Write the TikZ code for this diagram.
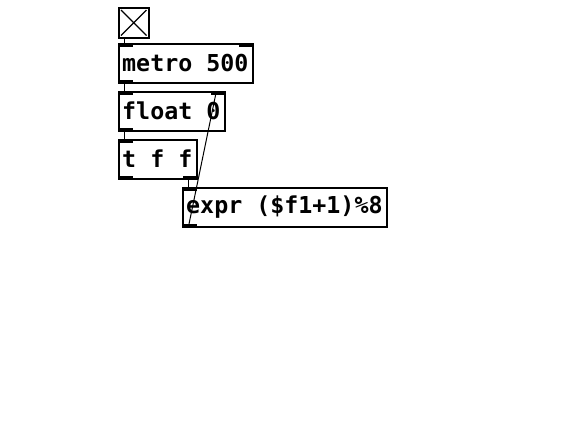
\documentclass[tikz,border=0pt]{standalone}
\usepackage{fontspec}
\setmonofont{DejaVu Sans Mono}
\usetikzlibrary{calc}
\tikzset{
  pdbox/.style={draw=black, line width=1.5pt, fill=white, inner sep=0pt, anchor=north west},
  pdtext/.style={anchor=west, inner sep=0pt, font=\ttfamily\bfseries\fontsize{23.3}{24}\selectfont},
  cord/.style={draw=black, line width=1pt},
}
\begin{document}
\begin{tikzpicture}[x=1pt,y=-1pt]
\useasboundingbox (0,0) rectangle (582,434);
% connections (drawn first)
\coordinate (bo) at (124,37);
\coordinate (mi) at (124,43);
\coordinate (mo) at (124,82);
\coordinate (fi) at (124,91);
\coordinate (fo) at (124,130);
\coordinate (ti) at (124,139);
\coordinate (tro) at (188,178);
\coordinate (ei) at (188,187);
\coordinate (eo) at (189,224);
\coordinate (fri) at (216,93);
\draw[cord] (bo) -- (mi);
\draw[cord] (mo) -- (fi);
\draw[cord] (fo) -- (ti);
\draw[cord] (tro) -- (ei);
% bang
\node[pdbox, minimum width=30pt, minimum height=30pt] (bang) at (118,7) {};
\draw[line width=1.2pt] ($(bang.north west)+(3,3)$) -- ($(bang.south east)+(-3,-3)$);
\draw[line width=1.2pt] ($(bang.north east)+(-3,3)$) -- ($(bang.south west)+(3,-3)$);
% metro
\node[pdbox, minimum width=134pt, minimum height=39pt] (metro) at (118,43) {};
\node[pdtext] (metrot) at (122,63) {metro 500};
\fill ($(metro.north west)$) rectangle +(15,3.5);
\fill ($(metro.north east)+(-15,0)$) rectangle +(15,3.5);
\fill ($(metro.south west)$) rectangle +(15,-3.5);
% float
\node[pdbox, minimum width=106pt, minimum height=39pt] (float) at (118,91) {};
\node[pdtext] (floatt) at (122,111) {float 0};
\fill ($(float.north west)$) rectangle +(15,3.5);
\fill ($(float.north east)+(-15,0)$) rectangle +(15,3.5);
\fill ($(float.south west)$) rectangle +(15,-3.5);
% trigger
\node[pdbox, minimum width=78pt, minimum height=39pt] (trig) at (118,139) {};
\node[pdtext] (trigt) at (122,159) {t f f};
\fill ($(trig.north west)$) rectangle +(15,3.5);
\fill ($(trig.south west)$) rectangle +(15,-3.5);
\fill ($(trig.south east)+(-15,0)$) rectangle +(15,-3.5);
% expr
\node[pdbox, minimum width=204pt, minimum height=39pt] (expr) at (182,187) {};
\node[pdtext] (exprt) at (186,207) {expr (\$f1+1)\%8};
\fill ($(expr.north west)$) rectangle +(15,3.5);
\fill ($(expr.south west)$) rectangle +(15,-3.5);
% feedback cord
\draw[cord] (eo) -- (fri);
\end{tikzpicture}
\end{document}
